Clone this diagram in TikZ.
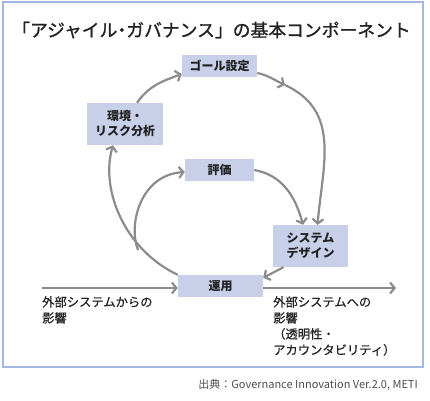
\documentclass[tikz,border=0pt]{standalone}
\usepackage{fontspec}
\setmainfont{Noto Sans CJK JP}
\newfontfamily\titlefont[FakeBold=1.2]{Noto Sans CJK JP}
\newfontfamily\titlepalt[FakeBold=1.2,RawFeature=+palt]{Noto Sans CJK JP}
\newfontfamily\notefont[FakeBold=0.6]{Noto Sans CJK JP}
\usetikzlibrary{arrows.meta}
\definecolor{boxfill}{HTML}{C8CFE9}
\definecolor{framecol}{HTML}{A3B7E0}
\definecolor{arrowcol}{HTML}{8C8C8C}
\definecolor{textcol}{HTML}{222222}
\tikzset{
  compbox/.style={fill=boxfill, draw=none, inner sep=0pt, align=center,
    font=\fontsize{12}{15}\selectfont\bfseries, text=textcol},
  flow/.style={draw=arrowcol, line width=2.2pt,
    -{Straight Barb[length=4.5pt,width=11pt,line width=2.2pt]}},
  note/.style={inner sep=0pt, align=left, font=\fontsize{12.3}{16}\selectfont\notefont, text=textcol},
}
\begin{document}
\begin{tikzpicture}[x=1pt,y=1pt]
\useasboundingbox (0,0) rectangle (430,400);
% frame
\draw[framecol, line width=1.2pt] (3,33) rectangle (423,398);
% title
\node[anchor=west, inner sep=0pt, font=\fontsize{17.8}{20}\selectfont\titlefont, text=textcol] (title) at (12,370) {「アジャイル{\titlepalt ・}ガバナンス」の基本コンポーネント};
% boxes
\node[compbox, minimum width=75pt, minimum height=22pt] (goal) at (219.5,334) {ゴール設定};
\node[compbox, minimum width=76pt, minimum height=42pt] (env) at (125,276) {環境・\\リスク分析};
\node[compbox, minimum width=69pt, minimum height=22pt] (eval) at (219.5,230) {評価};
\node[compbox, minimum width=75pt, minimum height=42pt] (sys) at (310.5,154) {システム\\デザイン};
\node[compbox, minimum width=85pt, minimum height=22pt] (ops) at (220.5,114) {運用};
% coordinates
\coordinate (mid) at (285,315);
\coordinate (merge) at (138,150);
\coordinate (inL) at (42,112);
\coordinate (outR) at (396,112);
% arrows
\draw[flow] ([xshift=12pt]env.north) to[out=55,in=200] ([yshift=-8pt]goal.west);
\draw[flow] ([yshift=-7pt]goal.east) to[out=-12,in=155] (mid);
\draw[flow] (mid) to[out=-25,in=85,looseness=1.1] ([xshift=7pt]sys.north);
\draw[flow] (ops.north west) .. controls (125,150) and (100,210) .. ([xshift=-12pt]env.south);
\draw[flow] (merge) .. controls (128,175) and (140,225) .. ([yshift=-2pt]eval.west);
\draw[flow] (eval.east) to[out=-10,in=105] ([xshift=-7.5pt]sys.north);
\draw[flow] ([xshift=-27pt]sys.south) -- ([yshift=-3pt]ops.north east);
\draw[flow] (inL) -- ([yshift=-2pt]ops.west);
\draw[flow] ([yshift=-2pt]ops.east) -- (outR);
% notes
\node[note, anchor=north west] (nleft) at (42,104) {外部システムからの\\影響};
\node[note, anchor=north west] (nright) at (273,104) {外部システムへの\\影響\\（透明性・\\アカウンタビリティ）};
% source
\node[anchor=east, inner sep=0pt, font=\fontsize{11}{13}\selectfont, text=textcol!80] (src) at (418,15) {出典：Governance Innovation Ver.2.0, METI};
\end{tikzpicture}
\end{document}
